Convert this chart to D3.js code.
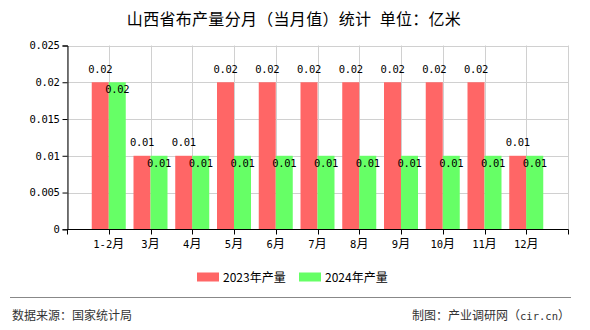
<!DOCTYPE html>
<html><head><meta charset="utf-8">
<script src="https://cdn.jsdelivr.net/npm/d3@7/dist/d3.min.js"></script>
<style>
html,body{margin:0;padding:0;background:#fff;}
svg{display:block;}
</style></head>
<body>
<svg id="chart" width="590" height="330"></svg>
<script>
const categories = ["1-2月","3月","4月","5月","6月","7月","8月","9月","10月","11月","12月"];
const seriesNames = ["2023年产量","2024年产量"];
const values2023 = [0.02,0.01,0.01,0.02,0.02,0.02,0.02,0.02,0.02,0.02,0.01];
const values2024 = [0.02,0.01,0.01,0.01,0.01,0.01,0.01,0.01,0.01,0.01,0.01];
const yTicks = [0,0.005,0.01,0.015,0.02,0.025];
const yTickLabels = ["0","0.005","0.01","0.015","0.02","0.025"];
const colors = ["#ff6666","#66ff66"];
const titleText = "山西省布产量分月（当月值）统计\u2002单位：亿米";
const sourceText = "数据来源：国家统计局";
const creditText = "制图：产业调研网（cir.cn）";

const svg = d3.select("#chart");
const M = {left:67, right:568, top:45.5, bottom:229.3};
const MONO = "'DejaVu Sans Mono', monospace";
const CJK = "'Noto Sans CJK SC', sans-serif";

function mixed(sel, text, cjkSize, asciiSize) {
  const runs = [];
  for (const ch of text) {
    const isAscii = ch.charCodeAt(0) < 128;
    if (runs.length && runs[runs.length-1].a === isAscii) runs[runs.length-1].t += ch;
    else runs.push({a:isAscii, t:ch});
  }
  runs.forEach(r => {
    sel.append("tspan")
      .attr("font-family", r.a ? MONO : CJK)
      .attr("font-size", r.a ? asciiSize : cjkSize)
      .text(r.t);
  });
  return sel;
}

const x = d3.scaleBand().domain(categories).range([M.left, M.right]).paddingInner(0).paddingOuter(0.5);
const x1 = d3.scaleBand().domain(seriesNames).range([0, x.bandwidth()]).paddingInner(0).paddingOuter(0.228);
const y = d3.scaleLinear().domain([0, 0.025]).range([M.bottom, M.top]);

const center = c => x(c) + x.bandwidth()/2;

// grid
const grid = svg.append("g").attr("stroke", "#d0d0d0").attr("stroke-width", 1);
yTicks.forEach(v => {
  grid.append("line").attr("x1", M.left).attr("x2", M.right)
    .attr("y1", Math.round(y(v))+0.5).attr("y2", Math.round(y(v))+0.5);
});
const vx = [M.left, ...categories.map(center), M.right];
vx.forEach(px => {
  grid.append("line").attr("x1", Math.round(px)+0.5).attr("x2", Math.round(px)+0.5)
    .attr("y1", M.top).attr("y2", M.bottom);
});

// bars
const data = [values2023, values2024];
data.forEach((vals, si) => {
  svg.append("g").selectAll("rect").data(vals).join("rect")
    .attr("x", (d,i) => x(categories[i]) + x1(seriesNames[si]))
    .attr("width", x1.bandwidth())
    .attr("y", d => y(d))
    .attr("height", d => y(0) - y(d))
    .attr("fill", colors[si]);
});

// value labels
data.forEach((vals, si) => {
  svg.append("g").selectAll("text").data(vals).join("text")
    .attr("x", (d,i) => x(categories[i]) + x1(seriesNames[si]) + x1.bandwidth()/2)
    .attr("y", d => si === 0 ? y(d) - 9.5 : y(d) + 11)
    .attr("text-anchor", "middle")
    .attr("font-family", MONO).attr("font-size", 10.5).attr("letter-spacing", -0.3).attr("fill", "#000")
    .text(d => String(d));
});

// y axis
const yAxis = d3.axisLeft(y).tickValues(yTicks).tickSize(5).tickPadding(3)
  .tickFormat((d,i) => yTickLabels[i]);
const gy = svg.append("g").attr("transform", `translate(${M.left+0.5},0)`).call(yAxis);
gy.select(".domain").attr("stroke", "#000");
gy.selectAll(".tick line").attr("stroke", "#000");
gy.selectAll(".tick text").attr("font-family", MONO).attr("font-size", 10.5).attr("letter-spacing", -0.3).attr("fill", "#000");

// x axis
const gx = svg.append("g").attr("transform", `translate(0,${Math.round(M.bottom)+0.5})`);
gx.append("line").attr("x1", M.left).attr("x2", M.right+0.5).attr("stroke", "#000");
vx.forEach(px => {
  gx.append("line").attr("x1", Math.round(px)+0.5).attr("x2", Math.round(px)+0.5)
    .attr("y1", 0).attr("y2", 5).attr("stroke", "#000");
});
categories.forEach(c => {
  const t = gx.append("text").attr("x", center(c)).attr("y", 18)
    .attr("text-anchor", "middle").attr("fill", "#000");
  mixed(t, c, 12, 10.5);
});

// title
svg.append("text").attr("x", 294).attr("y", 25).attr("text-anchor", "middle")
  .attr("font-family", CJK).attr("font-size", 16).attr("letter-spacing", 0.3)
  .attr("fill", "#000").text(titleText);

// legend
const legend = svg.append("g");
const legX = [197, 299];
seriesNames.forEach((s, i) => {
  legend.append("rect").attr("x", legX[i]).attr("y", 272.5).attr("width", 22).attr("height", 9)
    .attr("fill", colors[i]);
  legend.append("text").attr("x", legX[i] + 26).attr("y", 281.5)
    .attr("font-family", CJK).attr("font-size", 12).attr("fill", "#000").text(s);
});

// footer
svg.append("line").attr("x1", 10).attr("x2", 571).attr("y1", 297.5).attr("y2", 297.5)
  .attr("stroke", "#888").attr("stroke-width", 1);
svg.append("text").attr("x", 12).attr("y", 320)
  .attr("font-family", CJK).attr("font-size", 12)
  .attr("fill", "#333").text(sourceText);
const cr = svg.append("text").attr("x", 570).attr("y", 320).attr("text-anchor", "end").attr("fill", "#333");
mixed(cr, creditText, 12, 10.5);
</script>
</body></html>
